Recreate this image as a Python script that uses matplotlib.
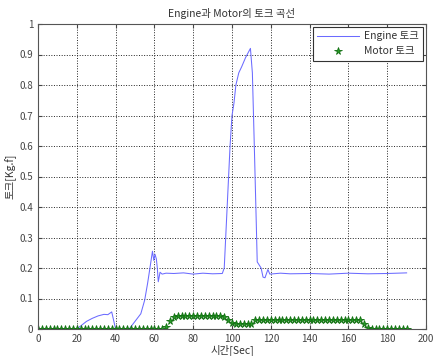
import matplotlib
matplotlib.use('Agg')
import matplotlib.pyplot as plt

plt.rcParams['font.family'] = ['Noto Sans CJK KR', 'DejaVu Sans']

# Engine 토크 (시간, 값)
engine_t = [0, 10, 20, 22, 25, 28, 31, 34, 36, 38, 40, 44, 47, 50, 53, 55, 56.5, 57.7,
            59, 59.7, 60.3, 61, 61.5, 62, 62.9, 64, 66, 70, 75, 80, 85, 90, 95, 96,
            97.5, 99, 100, 101, 102, 103.5, 105, 107, 109.5, 110.5, 111.5, 112.5, 113,
            114, 115, 116, 117, 118.5, 119.5, 125, 130, 140, 150, 160, 170, 180, 190]
engine_v = [0, 0, 0, 0.01, 0.025, 0.035, 0.043, 0.048, 0.047, 0.056, 0.0, 0.0, 0.0,
            0.025, 0.05, 0.095, 0.15, 0.2, 0.255, 0.225, 0.245, 0.23, 0.2, 0.155, 0.186,
            0.18, 0.183, 0.182, 0.184, 0.18, 0.183, 0.181, 0.182, 0.2, 0.4, 0.6, 0.7,
            0.74, 0.8, 0.84, 0.86, 0.89, 0.92, 0.84, 0.6, 0.35, 0.22, 0.21, 0.2, 0.17,
            0.168, 0.195, 0.18, 0.183, 0.181, 0.182, 0.18, 0.183, 0.181, 0.182, 0.184]

# Motor 토크 (2초 간격)
motor_t = list(range(0, 191, 2))
motor_v = [
    0, 0, 0, 0, 0, 0, 0, 0, 0, 0, 0, 0, 0, 0, 0, 0, 0, 0, 0, 0, 0, 0, 0, 0, 0, 0, 0, 0,
    0, 0, 0, 0, 0,
    0.005, 0.025, 0.04,
    0.042, 0.042, 0.042, 0.042, 0.042, 0.042, 0.042, 0.042, 0.042, 0.042, 0.042, 0.042,
    0.04, 0.03, 0.02, 0.015,
    0.015, 0.015, 0.015, 0.015,
    0.028,
    0.03, 0.03, 0.03, 0.03, 0.03, 0.03, 0.03, 0.03, 0.03, 0.03, 0.03, 0.03, 0.03, 0.03,
    0.03, 0.03, 0.03, 0.03, 0.03, 0.03, 0.03, 0.03, 0.03, 0.03, 0.03, 0.03, 0.03,
    0.015, 0.002,
    0, 0, 0, 0, 0, 0, 0, 0, 0, 0]

xticks = list(range(0, 201, 20))
yticks = [0, 0.1, 0.2, 0.3, 0.4, 0.5, 0.6, 0.7, 0.8, 0.9, 1]
ytick_labels = ['0', '0.1', '0.2', '0.3', '0.4', '0.5', '0.6', '0.7', '0.8', '0.9', '1']

fig = plt.figure(figsize=(4.33, 3.56), dpi=100)
ax = fig.add_axes([38 / 433, 1 - 329 / 356, 388 / 433, 305 / 356])

ax.plot(engine_t, engine_v, color='#6b6bff', linewidth=0.75, label='Engine 토크')
ax.plot(motor_t, motor_v, linestyle='None', marker='*', markersize=5.5,
        color='#24a024', markeredgecolor='#137013', markeredgewidth=0.6,
        label='Motor 토크')

ax.set_xlim(0, 200)
ax.set_ylim(0, 1)
ax.set_xticks(xticks)
ax.set_yticks(yticks)
ax.set_yticklabels(ytick_labels)
ax.grid(True, linestyle=':', color='#222222', linewidth=0.7)
ax.tick_params(direction='in', top=True, right=True, length=3,
               labelsize=7, labelcolor='#444444', color='#444444')
for s in ax.spines.values():
    s.set_color('#555555')
    s.set_linewidth(0.8)

ax.set_title('Engine과 Motor의 토크 곡선', fontsize=7.5, color='#333333', pad=5)
ax.set_xlabel('시간[Sec]', fontsize=7.5, color='#333333', labelpad=0)
ax.set_ylabel('토크[Kg.f]', fontsize=7.5, color='#333333', labelpad=2)

leg = ax.legend(loc='upper right', fontsize=7.5, fancybox=False, framealpha=1,
                edgecolor='#333333', borderaxespad=0.3, handlelength=4,
                labelspacing=0.5, handletextpad=0.5)
leg.get_frame().set_linewidth(0.8)
for t in leg.get_texts():
    t.set_color('#333333')

fig.savefig('out.png', dpi=100)
